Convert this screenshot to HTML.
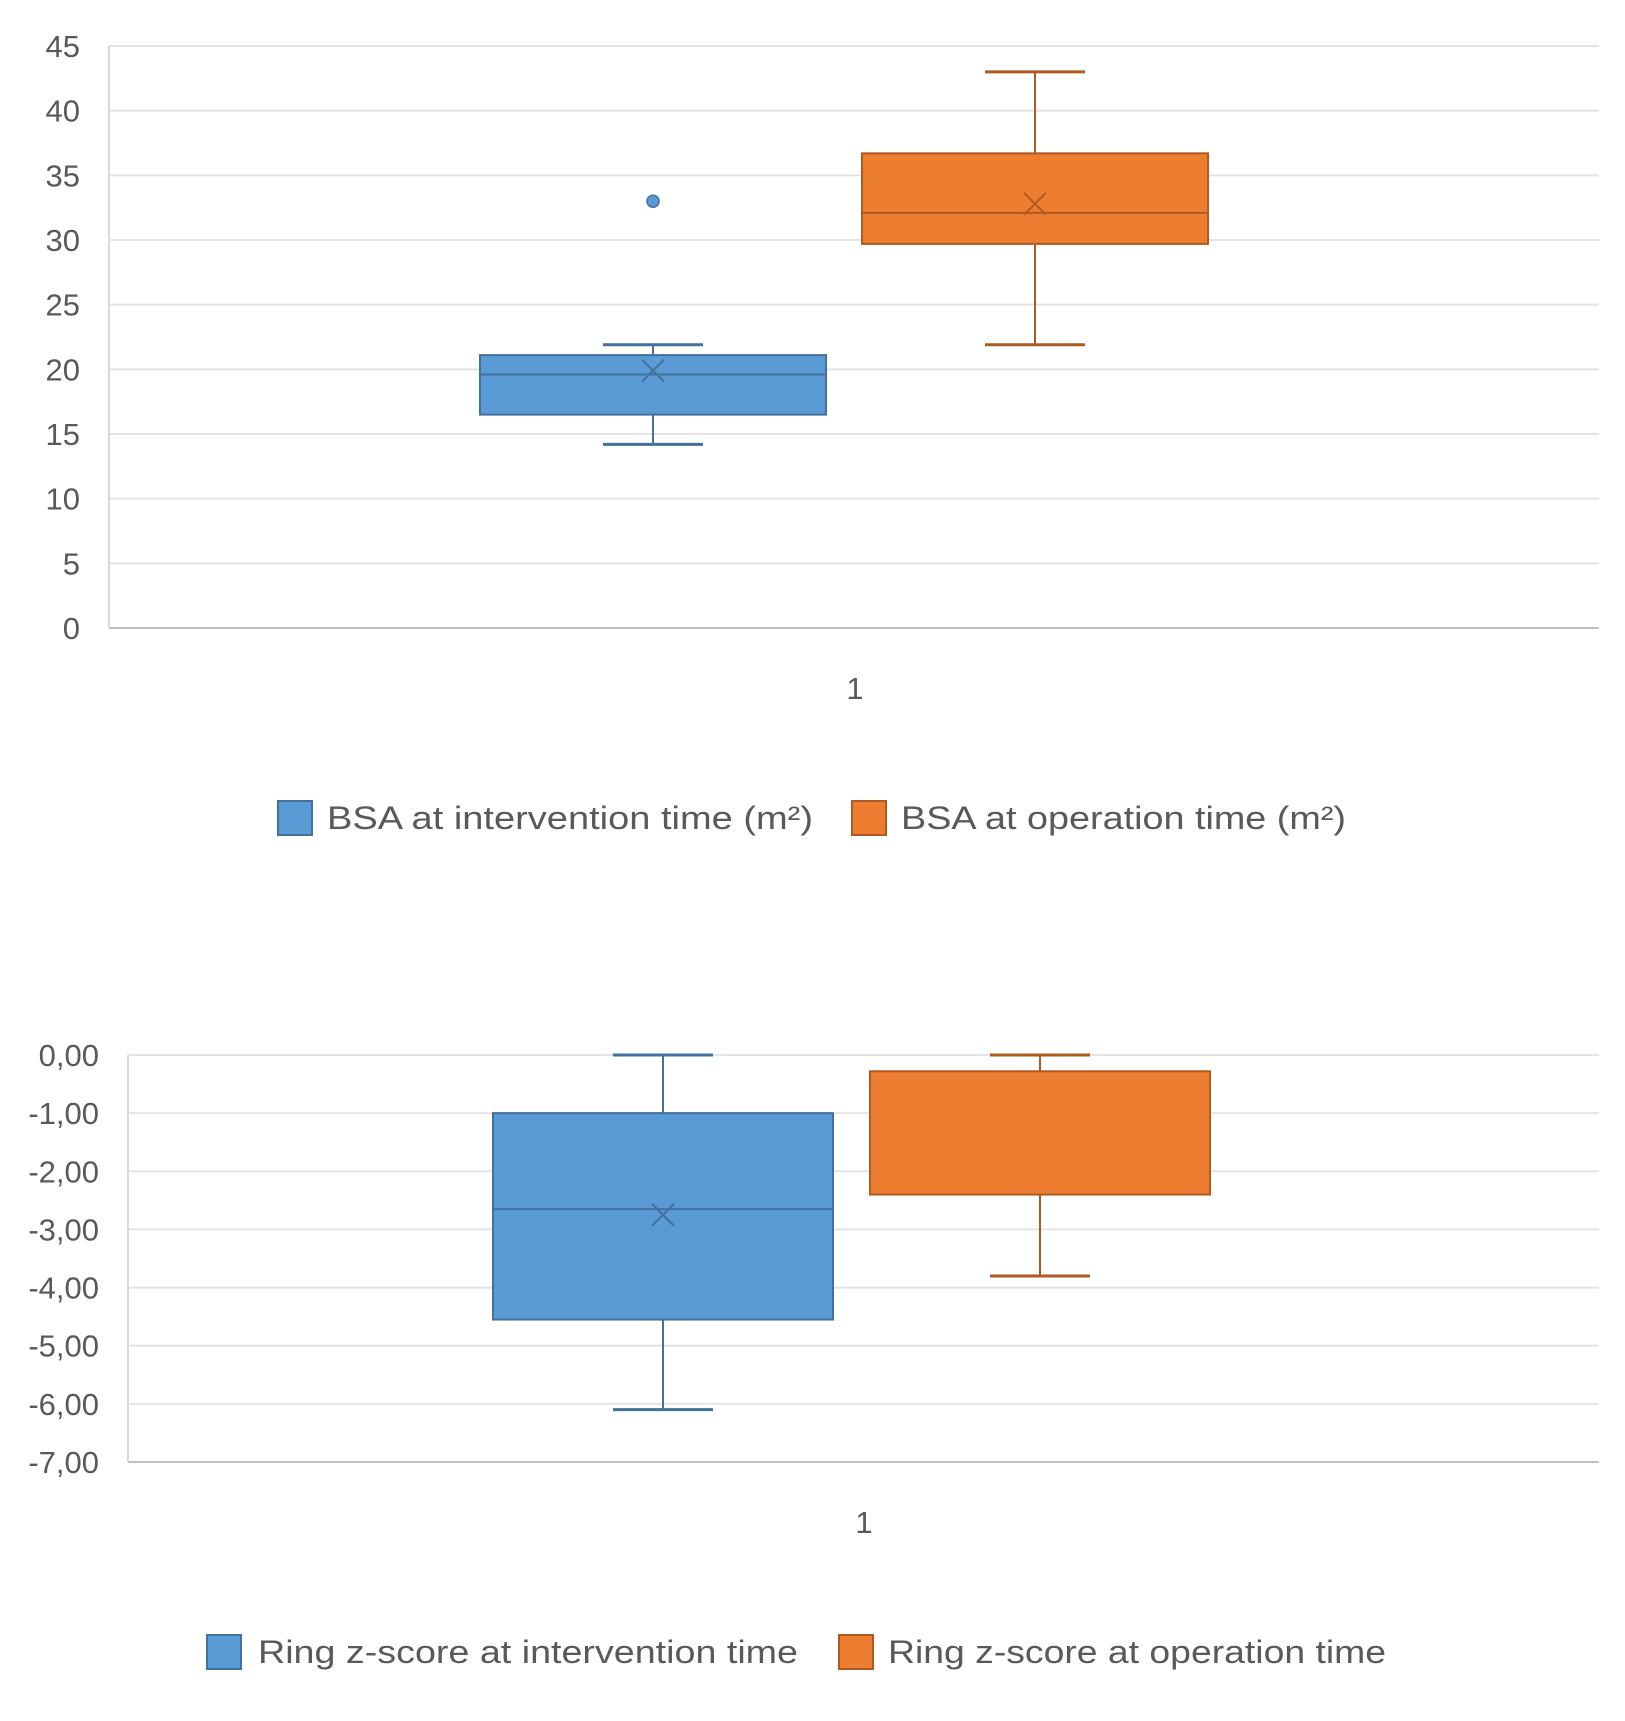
<!DOCTYPE html>
<html><head><meta charset="utf-8"><style>
body{margin:0;background:#fff;}
svg{display:block;font-family:"Liberation Sans",sans-serif;}
</style></head><body>
<svg id="c" width="1625" height="1721" viewBox="0 0 1625 1721"></svg>
<script>
// Chart 1: BSA
const ticks1 = [0,5,10,15,20,25,30,35,40,45];
const tickLabels1 = ["0","5","10","15","20","25","30","35","40","45"];
const series1Names = ["BSA at intervention time (m²)","BSA at operation time (m²)"];
const series1Min = [14.2, 21.9];
const series1Q1 = [16.5, 29.7];
const series1Median = [19.6, 32.1];
const series1Q3 = [21.1, 36.7];
const series1Max = [21.9, 43.0];
const series1Mean = [19.9, 32.8];
const series1Outliers = [[33.0], []];
// Chart 2: Ring z-score
const ticks2 = [0,-1,-2,-3,-4,-5,-6,-7];
const tickLabels2 = ["0,00","-1,00","-2,00","-3,00","-4,00","-5,00","-6,00","-7,00"];
const series2Names = ["Ring z-score at intervention time","Ring z-score at operation time"];
const series2Min = [-6.1, -3.8];
const series2Q1 = [-4.55, -2.4];
const series2Median = [-2.65, null];
const series2Q3 = [-1.0, -0.28];
const series2Max = [0.0, 0.0];
const series2Mean = [-2.75, null];
const series2Outliers = [[], []];
const category = "1";

const NS="http://www.w3.org/2000/svg";
const svg=document.getElementById('c');
function mk(tag,attrs,parent){const e=document.createElementNS(NS,tag);for(const k in attrs)e.setAttribute(k,attrs[k]);(parent||svg).appendChild(e);return e;}
const fills=["#5b9bd5","#ed7d31"], strokes=["#41719c","#ae5a21"];

function drawChart(cfg){
  const g=mk('g',{});
  
  
  const ymin=Math.min(...cfg.ticks), ymax=Math.max(...cfg.ticks);
  const y=v=>cfg.bottom-(v-ymin)/(ymax-ymin)*(cfg.bottom-cfg.top);
  cfg.ticks.forEach((t,i)=>{
    if(t!==ymin){const l=mk('line',{x1:cfg.left,x2:cfg.right,y1:y(t),y2:y(t),stroke:"#e4e4e4","stroke-width":2},g);
    
    }
    const tx=mk('text',{x:cfg.labelX,y:y(t)+11,"text-anchor":"end","font-size":31,fill:"#595959"},g);
    tx.textContent=cfg.tickLabels[i];
    
    
  });
  const ax=mk('line',{x1:cfg.left,x2:cfg.right,y1:cfg.bottom,y2:cfg.bottom,stroke:"#bfbfbf","stroke-width":2},g);
  
  
  const ay=mk('line',{x1:cfg.left,x2:cfg.left,y1:cfg.top,y2:cfg.bottom,stroke:"#d9d9d9","stroke-width":2},g);
  
  
  const xt=mk('text',{x:cfg.catX,y:cfg.catY,"text-anchor":"middle","font-size":31,fill:"#595959"},g);
  xt.textContent=category;
  
  
  for(let i=0;i<2;i++){
    const cx=cfg.centers[i], hw=cfg.boxHalf, cw=50;
    const bg=mk('g',{},g);
    
    
    const s=strokes[i];
    mk('line',{x1:cx,x2:cx,y1:y(cfg.max[i]),y2:y(cfg.q3[i]),stroke:s,"stroke-width":2},bg);
    mk('line',{x1:cx,x2:cx,y1:y(cfg.q1[i]),y2:y(cfg.min[i]),stroke:s,"stroke-width":2},bg);
    mk('line',{x1:cx-cw,x2:cx+cw,y1:y(cfg.max[i]),y2:y(cfg.max[i]),stroke:s,"stroke-width":3},bg);
    mk('line',{x1:cx-cw,x2:cx+cw,y1:y(cfg.min[i]),y2:y(cfg.min[i]),stroke:s,"stroke-width":3},bg);
    mk('rect',{x:cx-hw,y:y(cfg.q3[i]),width:2*hw,height:y(cfg.q1[i])-y(cfg.q3[i]),fill:fills[i],stroke:s,"stroke-width":2},bg);
    if(cfg.median[i]!==null) mk('line',{x1:cx-hw,x2:cx+hw,y1:y(cfg.median[i]),y2:y(cfg.median[i]),stroke:s,"stroke-width":2},bg);
    if(cfg.mean[i]!==null){const m=y(cfg.mean[i]);
      mk('path',{d:`M${cx-11} ${m-11}L${cx+11} ${m+11}M${cx+11} ${m-11}L${cx-11} ${m+11}`,stroke:s,"stroke-width":2,fill:"none"},bg);}
    cfg.out[i].forEach(o=>{const c=mk('circle',{cx:cx,cy:y(o),r:6,fill:fills[i],stroke:s,"stroke-width":1.5},bg);
      
      });
  }
  cfg.legend.forEach((L,i)=>{
    const lg=mk('g',{},g);
    
    
    mk('rect',{x:L.sx,y:cfg.legY-17,width:34,height:34,fill:fills[i],stroke:strokes[i],"stroke-width":2},lg);
    const t=mk('text',{x:L.tx,y:cfg.legY+11,"font-size":32,fill:"#595959",textLength:L.w,lengthAdjust:"spacingAndGlyphs"},lg);
    t.textContent=cfg.names[i];
  });
}
drawChart({name:'bsa-chart',ticks:ticks1,tickLabels:tickLabels1,top:46,bottom:628,left:109,right:1599,labelX:80,
  centers:[653,1035],boxHalf:173,min:series1Min,q1:series1Q1,median:series1Median,q3:series1Q3,max:series1Max,mean:series1Mean,out:series1Outliers,
  catX:855,catY:699,legY:818,names:series1Names,legend:[{sx:278,tx:327,w:486},{sx:852,tx:901,w:445}]});
drawChart({name:'ring-zscore-chart',ticks:ticks2,tickLabels:tickLabels2,top:1055,bottom:1462,left:128,right:1599,labelX:99,
  centers:[663,1040],boxHalf:170,min:series2Min,q1:series2Q1,median:series2Median,q3:series2Q3,max:series2Max,mean:series2Mean,out:series2Outliers,
  catX:864,catY:1533,legY:1652,names:series2Names,legend:[{sx:207,tx:258,w:540},{sx:839,tx:888,w:498}]});
</script>
</body></html>
